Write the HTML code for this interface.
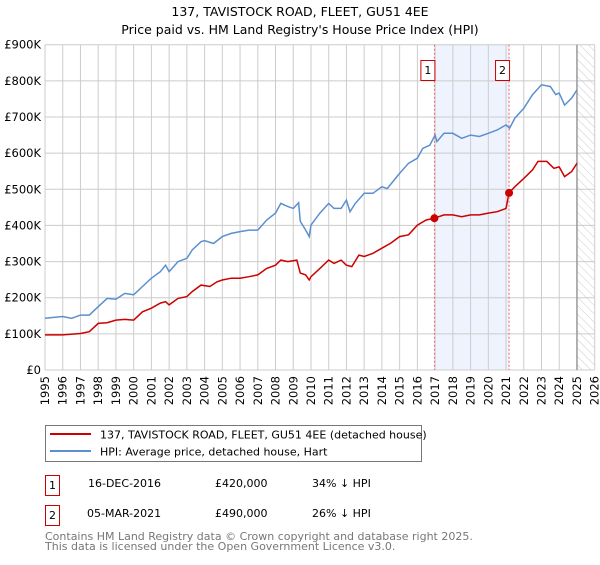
<!DOCTYPE html>
<html><head><meta charset="utf-8"><style>
body{margin:0;background:#fff;font-family:"Liberation Sans","DejaVu Sans",sans-serif}
svg text{font-family:"DejaVu Sans","Liberation Sans",sans-serif}
</style></head><body>
<svg id="c" width="600" height="560" xmlns="http://www.w3.org/2000/svg">
<text x="300" y="16" font-size="12.5" text-anchor="middle">137, TAVISTOCK ROAD, FLEET, GU51 4EE</text>
<text x="300" y="34" font-size="12.5" text-anchor="middle">Price paid vs. HM Land Registry's House Price Index (HPI)</text>
<defs><pattern id="hatch" width="6" height="6" patternUnits="userSpaceOnUse" patternTransform="rotate(-45)"><line x1="0" y1="0" x2="0" y2="6" stroke="#ccc" stroke-width="1"/></pattern></defs>
<g id="grid"></g><g id="marks"></g>
<g>
<rect x="45.5" y="425.5" width="376" height="36" fill="#fff" stroke="#777"/>
<line x1="50" y1="434" x2="91" y2="434" stroke="#cc0000" stroke-width="2"/>
<text x="100" y="438.5" font-size="11">137, TAVISTOCK ROAD, FLEET, GU51 4EE (detached house)</text>
<line x1="50" y1="451" x2="91" y2="451" stroke="#5b8fd0" stroke-width="2"/>
<text x="100" y="455.5" font-size="11">HPI: Average price, detached house, Hart</text>
</g>
<g font-size="11">
<rect x="45.5" y="475.5" width="14" height="20" fill="#fff" stroke="#cc0000"/><text x="52.5" y="489" text-anchor="middle">1</text>
<text x="88" y="487">16-DEC-2016</text><text x="215" y="487">£420,000</text><text x="312" y="487">34% ↓ HPI</text>
<rect x="45.5" y="505.5" width="14" height="20" fill="#fff" stroke="#cc0000"/><text x="52.5" y="519" text-anchor="middle">2</text>
<text x="87" y="517">05-MAR-2021</text><text x="215" y="517">£490,000</text><text x="312" y="517">26% ↓ HPI</text>
</g>
<text x="45" y="540" font-size="11" fill="#777">Contains HM Land Registry data © Crown copyright and database right 2025.</text>
<text x="45" y="550" font-size="11" fill="#777">This data is licensed under the Open Government Licence v3.0.</text>
</svg>
<script>
const hpiYears=[1995,1996,1996.5,1997,1997.5,1998,1998.5,1999,1999.5,2000,2000.5,2001,2001.5,2001.8,2002,2002.5,2003,2003.3,2003.8,2004,2004.5,2005,2005.5,2006,2006.5,2007,2007.5,2008,2008.3,2008.7,2009,2009.3,2009.4,2009.7,2009.9,2010,2010.5,2011,2011.3,2011.7,2012,2012.2,2012.5,2013,2013.5,2014,2014.3,2014.7,2015,2015.5,2016,2016.3,2016.7,2017,2017.1,2017.5,2018,2018.5,2019,2019.5,2020,2020.5,2021,2021.2,2021.5,2022,2022.5,2023,2023.5,2023.8,2024,2024.3,2024.7,2025];
const hpiValues=[143,148,143,152,152,175,198,196,212,208,231,254,272,290,272,300,309,332,355,358,350,369,378,383,387,387,415,434,461,452,447,463,411,387,369,401,434,461,447,447,470,438,461,489,489,507,502,526,544,572,586,613,622,650,632,655,655,641,650,646,655,664,678,669,697,724,762,789,784,762,766,733,752,775];
const priceYears=[1995,1996,1997,1997.5,1998,1998.5,1999,1999.5,2000,2000.5,2001,2001.5,2001.8,2002,2002.5,2003,2003.3,2003.8,2004.3,2004.7,2005,2005.5,2006,2006.5,2007,2007.5,2008,2008.3,2008.7,2009.2,2009.4,2009.7,2009.9,2010,2010.5,2011,2011.3,2011.7,2012,2012.3,2012.7,2013,2013.5,2014,2014.5,2015,2015.5,2016,2016.5,2016.96,2017.5,2018,2018.5,2019,2019.5,2020,2020.5,2021.0,2021.17,2021.5,2022,2022.5,2022.8,2023.3,2023.7,2024,2024.3,2024.7,2025];
const priceValues=[97,97,101,106,129,131,138,140,138,161,171,185,189,180,198,203,217,235,231,244,249,254,254,258,263,281,290,304,300,304,268,263,249,258,281,304,295,304,290,286,318,314,323,337,351,369,374,401,415,420,429,429,424,429,429,434,438,447,490,507,530,554,577,577,558,562,535,549,572];
const saleYears=[2016.96,2021.17];
const saleValues=[420,490];
const saleLabels=["1","2"];
const yTicks=[0,100,200,300,400,500,600,700,800,900];
const yTickLabels=["£0","£100K","£200K","£300K","£400K","£500K","£600K","£700K","£800K","£900K"];
const xTicks=[1995,1996,1997,1998,1999,2000,2001,2002,2003,2004,2005,2006,2007,2008,2009,2010,2011,2012,2013,2014,2015,2016,2017,2018,2019,2020,2021,2022,2023,2024,2025,2026];
const X0=45,X1=594.7,Y0=370,Y1=44.7;
const x=v=>X0+(v-1995)/(2026-1995)*(X1-X0);
const y=v=>Y0-v/900*(Y0-Y1);
const NS="http://www.w3.org/2000/svg";
function mk(t,a,p){const e=document.createElementNS(NS,t);for(const k in a)e.setAttribute(k,a[k]);p.appendChild(e);return e;}
const g=document.getElementById('grid'),m=document.getElementById('marks');
let r=mk('rect',{x:x(2016.96),y:Y1,width:x(2021.17)-x(2016.96),height:Y0-Y1,fill:'#eef3fd'},g);


r=mk('rect',{x:x(2025),y:Y1,width:X1-x(2025),height:Y0-Y1,fill:'url(#hatch)'},g);


yTicks.forEach((v,i)=>{mk('line',{x1:X0,x2:X1,y1:y(v),y2:y(v),stroke:'#ccc'},g);
const t=mk('text',{x:X0-4,y:y(v)+4,'font-size':11.5,'text-anchor':'end'},g);t.textContent=yTickLabels[i];

});
xTicks.forEach(v=>{mk('line',{x1:x(v),x2:x(v),y1:Y1,y2:Y0,stroke:'#ccc'},g);
const t=mk('text',{x:0,y:0,'font-size':11.5,'text-anchor':'end',transform:`translate(${x(v)+4},${Y0+6}) rotate(-90)`},g);t.textContent=v;

});
mk('line',{x1:x(2025),x2:x(2025),y1:Y1,y2:Y0,stroke:'#999','stroke-width':1.5},g);
function line(xs,vs,col,name){const p=mk('path',{d:xs.map((a,i)=>(i?'L':'M')+x(a).toFixed(1)+','+y(vs[i]).toFixed(1)).join(''),fill:'none',stroke:col,'stroke-width':1.5},m);

}
line(hpiYears,hpiValues,'#5b8fd0','hpi-line');
line(priceYears,priceValues,'#cc0000','price-paid-line');
saleYears.forEach((s,i)=>{mk('line',{x1:x(s),x2:x(s),y1:Y1,y2:Y0,stroke:'#e66','stroke-dasharray':'2,2'},m);
const c=mk('circle',{cx:x(s),cy:y(saleValues[i]),r:4,fill:'#cc0000'},m);


const bx=x(s)-13;
const b=mk('rect',{x:bx-0.5,y:60.5,width:14,height:20,fill:'#fff',stroke:'#cc0000'},m);


const t=mk('text',{x:bx+6.5,y:74,'font-size':11,'text-anchor':'middle'},m);t.textContent=saleLabels[i];});
</script>
</body></html>
